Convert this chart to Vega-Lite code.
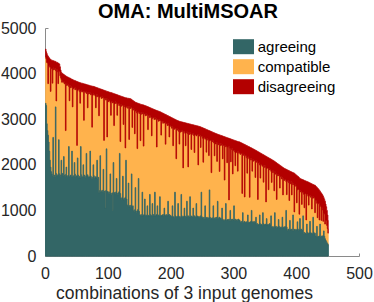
{"$schema":"https://vega.github.io/schema/vega-lite/v6.json","width":314,"height":228,"autosize":{"type":"none"},"padding":{"left":45,"top":28,"right":15,"bottom":46},"background":"white",
"title":{"text":"OMA: MultiMSOAR","font":"Liberation Sans","fontSize":20,"fontWeight":"bold","color":"black","dx":-14,"offset":-2},
"data":{"values":[
{"i":1,"a":3350,"c":1010,"d":180},{"i":2,"a":3300,"c":1025,"d":155},{"i":3,"a":2900,"c":1345,"d":195},{"i":4,"a":2750,"c":1480,"d":170},{"i":5,"a":2650,"c":1130,"d":600},{"i":6,"a":2500,"c":1660,"d":200},{"i":7,"a":2300,"c":1890,"d":150},{"i":8,"a":2100,"c":2040,"d":180},{"i":9,"a":1950,"c":1660,"d":700},{"i":10,"a":1850,"c":2255,"d":195},
{"i":11,"a":1800,"c":2320,"d":170},{"i":12,"a":1760,"c":2030,"d":500},{"i":13,"a":2600,"c":1480,"d":200},{"i":14,"a":1745,"c":2385,"d":150},{"i":15,"a":1775,"c":2315,"d":180},{"i":16,"a":1740,"c":2375,"d":155},{"i":17,"a":3270,"c":795,"d":195},{"i":18,"a":1810,"c":1590,"d":850},{"i":19,"a":1755,"c":2335,"d":160},{"i":20,"a":1770,"c":2270,"d":200},
{"i":21,"a":1790,"c":1990,"d":450},{"i":22,"a":2550,"c":1490,"d":180},{"i":23,"a":1805,"c":2250,"d":155},{"i":24,"a":1745,"c":2210,"d":195},{"i":25,"a":1775,"c":2135,"d":170},{"i":26,"a":2100,"c":1770,"d":160},{"i":27,"a":1785,"c":2025,"d":200},{"i":28,"a":1810,"c":2040,"d":150},{"i":29,"a":1755,"c":2055,"d":180},{"i":30,"a":2180,"c":1645,"d":155},
{"i":31,"a":1775,"c":2000,"d":195},{"i":32,"a":1745,"c":2045,"d":170},{"i":33,"a":1790,"c":960,"d":1200},{"i":34,"a":1950,"c":1790,"d":200},{"i":35,"a":1760,"c":2020,"d":150},{"i":36,"a":1725,"c":2020,"d":180},{"i":37,"a":1770,"c":1995,"d":155},{"i":38,"a":2400,"c":1315,"d":195},{"i":39,"a":1740,"c":1665,"d":500},{"i":40,"a":1755,"c":1985,"d":160},
{"i":41,"a":1775,"c":1915,"d":200},{"i":42,"a":1745,"c":1985,"d":150},{"i":43,"a":2300,"c":1395,"d":180},{"i":44,"a":1730,"c":1540,"d":600},{"i":45,"a":1760,"c":1905,"d":195},{"i":46,"a":1725,"c":1960,"d":170},{"i":47,"a":2050,"c":1640,"d":160},{"i":48,"a":1795,"c":1850,"d":200},{"i":49,"a":1740,"c":1950,"d":150},{"i":50,"a":1755,"c":1895,"d":180},
{"i":51,"a":1760,"c":665,"d":1400},{"i":52,"a":2150,"c":1475,"d":195},{"i":53,"a":1775,"c":1870,"d":170},{"i":54,"a":1715,"c":1935,"d":160},{"i":55,"a":1745,"c":1860,"d":200},{"i":56,"a":1710,"c":1640,"d":450},{"i":57,"a":2400,"c":1215,"d":180},{"i":58,"a":1780,"c":1855,"d":155},{"i":59,"a":1725,"c":1870,"d":195},{"i":60,"a":1740,"c":1875,"d":170},
{"i":61,"a":2000,"c":1620,"d":160},{"i":62,"a":1730,"c":1245,"d":800},{"i":63,"a":1775,"c":1845,"d":150},{"i":64,"a":1715,"c":1875,"d":180},{"i":65,"a":1745,"c":1865,"d":155},{"i":66,"a":2250,"c":1315,"d":195},{"i":67,"a":1755,"c":1830,"d":170},{"i":68,"a":1780,"c":1470,"d":500},{"i":69,"a":1725,"c":1825,"d":200},{"i":70,"a":1740,"c":1855,"d":150},
{"i":71,"a":1740,"c":1820,"d":180},{"i":72,"a":2300,"c":1280,"d":155},{"i":73,"a":1755,"c":1780,"d":195},{"i":74,"a":1695,"c":1865,"d":170},{"i":75,"a":1725,"c":1100,"d":900},{"i":76,"a":1690,"c":1830,"d":200},{"i":77,"a":2000,"c":1570,"d":150},{"i":78,"a":1760,"c":1775,"d":180},{"i":79,"a":1705,"c":1850,"d":155},{"i":80,"a":1720,"c":1790,"d":195},
{"i":81,"a":1740,"c":1510,"d":450},{"i":82,"a":1710,"c":1825,"d":160},{"i":83,"a":2100,"c":1390,"d":200},{"i":84,"a":1695,"c":1840,"d":150},{"i":85,"a":1725,"c":1775,"d":180},{"i":86,"a":1390,"c":1685,"d":600},{"i":87,"a":1435,"c":2040,"d":195},{"i":88,"a":2200,"c":1295,"d":170},{"i":89,"a":1405,"c":2095,"d":160},{"i":90,"a":1420,"c":2035,"d":200},
{"i":91,"a":1440,"c":2060,"d":150},{"i":92,"a":1410,"c":2055,"d":180},{"i":93,"a":1900,"c":1585,"d":155},{"i":94,"a":1395,"c":1140,"d":1100},{"i":95,"a":1425,"c":2035,"d":170},{"i":96,"a":1050,"c":2415,"d":160},{"i":97,"a":1435,"c":1985,"d":200},{"i":98,"a":2350,"c":1115,"d":150},{"i":99,"a":1405,"c":1205,"d":1000},{"i":100,"a":1420,"c":2030,"d":155},
{"i":101,"a":1390,"c":1995,"d":215},{"i":102,"a":1360,"c":2045,"d":190},{"i":103,"a":1405,"c":2005,"d":180},{"i":104,"a":1800,"c":1568,"d":220},{"i":105,"a":1375,"c":1710,"d":500},{"i":106,"a":1340,"c":2040,"d":200},{"i":107,"a":1385,"c":2015,"d":175},{"i":108,"a":1000,"c":2355,"d":215},{"i":109,"a":2050,"c":1325,"d":190},{"i":110,"a":1370,"c":1490,"d":700},
{"i":111,"a":1390,"c":1945,"d":220},{"i":112,"a":1360,"c":2020,"d":170},{"i":113,"a":1405,"c":1940,"d":200},{"i":114,"a":1700,"c":1665,"d":175},{"i":115,"a":1375,"c":1710,"d":450},{"i":116,"a":1340,"c":2000,"d":190},{"i":117,"a":1385,"c":1960,"d":180},{"i":118,"a":1410,"c":1890,"d":220},{"i":119,"a":2250,"c":1095,"d":170},{"i":120,"a":1370,"c":1140,"d":1000},
{"i":121,"a":1270,"c":2060,"d":175},{"i":122,"a":1240,"c":2045,"d":215},{"i":123,"a":1285,"c":2020,"d":190},{"i":124,"a":1750,"c":1560,"d":180},{"i":125,"a":1255,"c":1630,"d":600},{"i":126,"a":1220,"c":2090,"d":170},{"i":127,"a":1265,"c":2010,"d":200},{"i":128,"a":1290,"c":1080,"d":1100},{"i":129,"a":2100,"c":1155,"d":215},{"i":130,"a":1250,"c":2025,"d":190},
{"i":131,"a":1120,"c":2162,"d":180},{"i":132,"a":1090,"c":2150,"d":220},{"i":133,"a":1600,"c":1688,"d":170},{"i":134,"a":1075,"c":1480,"d":900},{"i":135,"a":1105,"c":2172,"d":175},{"i":136,"a":1070,"c":2165,"d":215},{"i":137,"a":1115,"c":2135,"d":190},{"i":138,"a":1800,"c":1450,"d":180},{"i":139,"a":1085,"c":1735,"d":600},{"i":140,"a":1100,"c":2140,"d":170},
{"i":141,"a":1000,"c":2200,"d":200},{"i":142,"a":970,"c":2245,"d":175},{"i":143,"a":1015,"c":1665,"d":700},{"i":144,"a":1500,"c":1680,"d":190},{"i":145,"a":985,"c":2200,"d":180},{"i":146,"a":950,"c":2190,"d":220},{"i":147,"a":995,"c":1360,"d":1000},{"i":148,"a":1020,"c":2130,"d":200},{"i":149,"a":1700,"c":1470,"d":175},{"i":150,"a":980,"c":2145,"d":215},
{"i":151,"a":900,"c":2245,"d":190},{"i":152,"a":885,"c":1645,"d":800},{"i":153,"a":908,"c":2197,"d":220},{"i":154,"a":878,"c":2272,"d":170},{"i":155,"a":1400,"c":1718,"d":200},{"i":156,"a":875,"c":2265,"d":175},{"i":157,"a":898,"c":1512,"d":900},{"i":158,"a":910,"c":2205,"d":190},{"i":159,"a":1250,"c":1870,"d":180},{"i":160,"a":890,"c":2185,"d":220},
{"i":161,"a":900,"c":2220,"d":170},{"i":162,"a":885,"c":2199,"d":200},{"i":163,"a":1100,"c":2003,"d":175},{"i":164,"a":878,"c":1894,"d":500},{"i":165,"a":893,"c":2183,"d":190},{"i":166,"a":875,"c":2205,"d":180},{"i":167,"a":1350,"c":1684,"d":220},{"i":168,"a":910,"c":2168,"d":170},{"i":169,"a":882,"c":2160,"d":200},{"i":170,"a":890,"c":1746,"d":600},
{"i":171,"a":1150,"c":1865,"d":215},{"i":172,"a":885,"c":2149,"d":190},{"i":173,"a":908,"c":2130,"d":180},{"i":174,"a":878,"c":2114,"d":220},{"i":175,"a":1400,"c":1636,"d":170},{"i":176,"a":875,"c":2125,"d":200},{"i":177,"a":898,"c":2122,"d":175},{"i":178,"a":910,"c":1480,"d":800},{"i":179,"a":1100,"c":1895,"d":190},{"i":180,"a":890,"c":2110,"d":180},
{"i":181,"a":900,"c":2055,"d":220},{"i":182,"a":885,"c":2115,"d":170},{"i":183,"a":1300,"c":1665,"d":200},{"i":184,"a":878,"c":2105,"d":175},{"i":185,"a":893,"c":1758,"d":500},{"i":186,"a":875,"c":2079,"d":190},{"i":187,"a":898,"c":2059,"d":180},{"i":188,"a":910,"c":2000,"d":220},{"i":189,"a":882,"c":2071,"d":170},{"i":190,"a":1050,"c":1866,"d":200},
{"i":191,"a":900,"c":2034,"d":175},{"i":192,"a":885,"c":1567,"d":650},{"i":193,"a":908,"c":1997,"d":190},{"i":194,"a":878,"c":2030,"d":180},{"i":195,"a":893,"c":1968,"d":220},{"i":196,"a":1200,"c":1704,"d":170},{"i":197,"a":898,"c":1969,"d":200},{"i":198,"a":910,"c":1700,"d":450},{"i":199,"a":882,"c":1956,"d":215},{"i":200,"a":890,"c":1966,"d":190},
{"i":201,"a":870,"c":1979,"d":190},{"i":202,"a":855,"c":1947,"d":230},{"i":203,"a":1100,"c":1745,"d":180},{"i":204,"a":848,"c":1570,"d":600},{"i":205,"a":863,"c":1963,"d":185},{"i":206,"a":845,"c":1934,"d":225},{"i":207,"a":1400,"c":1397,"d":200},{"i":208,"a":880,"c":1920,"d":190},{"i":209,"a":852,"c":1281,"d":850},{"i":210,"a":860,"c":1936,"d":180},
{"i":211,"a":870,"c":1890,"d":210},{"i":212,"a":1150,"c":1629,"d":185},{"i":213,"a":878,"c":1855,"d":225},{"i":214,"a":848,"c":1606,"d":500},{"i":215,"a":863,"c":1897,"d":190},{"i":216,"a":845,"c":1871,"d":230},{"i":217,"a":1350,"c":1412,"d":180},{"i":218,"a":880,"c":1849,"d":210},{"i":219,"a":852,"c":1899,"d":185},{"i":220,"a":860,"c":1072,"d":1000},
{"i":221,"a":870,"c":1858,"d":200},{"i":222,"a":1050,"c":1685,"d":190},{"i":223,"a":878,"c":1814,"d":230},{"i":224,"a":848,"c":1570,"d":500},{"i":225,"a":863,"c":1841,"d":210},{"i":226,"a":1200,"c":1526,"d":185},{"i":227,"a":868,"c":1815,"d":225},{"i":228,"a":880,"c":1074,"d":950},{"i":229,"a":852,"c":1858,"d":190},{"i":230,"a":860,"c":1807,"d":230},
{"i":231,"a":1300,"c":1414,"d":180},{"i":232,"a":855,"c":1825,"d":210},{"i":233,"a":878,"c":1458,"d":550},{"i":234,"a":848,"c":1810,"d":225},{"i":235,"a":863,"c":1817,"d":200},{"i":236,"a":1050,"c":1636,"d":190},{"i":237,"a":868,"c":1774,"d":230},{"i":238,"a":880,"c":1389,"d":600},{"i":239,"a":852,"c":1804,"d":210},{"i":240,"a":860,"c":1817,"d":185},
{"i":241,"a":1150,"c":1483,"d":225},{"i":242,"a":855,"c":1800,"d":200},{"i":243,"a":878,"c":1784,"d":190},{"i":244,"a":848,"c":1150,"d":850},{"i":245,"a":863,"c":1801,"d":180},{"i":246,"a":845,"c":1785,"d":210},{"i":247,"a":868,"c":1783,"d":185},{"i":248,"a":880,"c":1500,"d":450},{"i":249,"a":1400,"c":1224,"d":200},{"i":250,"a":860,"c":1768,"d":190},
{"i":251,"a":840,"c":1742,"d":230},{"i":252,"a":825,"c":1231,"d":750},{"i":253,"a":848,"c":1742,"d":210},{"i":254,"a":818,"c":1791,"d":185},{"i":255,"a":1100,"c":1463,"d":225},{"i":256,"a":815,"c":1767,"d":200},{"i":257,"a":838,"c":1438,"d":500},{"i":258,"a":850,"c":1690,"d":230},{"i":259,"a":822,"c":1762,"d":180},{"i":260,"a":830,"c":1718,"d":210},
{"i":261,"a":840,"c":1362,"d":550},{"i":262,"a":1450,"c":1071,"d":225},{"i":263,"a":848,"c":1692,"d":200},{"i":264,"a":818,"c":1726,"d":190},{"i":265,"a":833,"c":995,"d":900},{"i":266,"a":815,"c":1727,"d":180},{"i":267,"a":838,"c":1668,"d":210},{"i":268,"a":1100,"c":1425,"d":185},{"i":269,"a":822,"c":1657,"d":225},{"i":270,"a":830,"c":1368,"d":500},
{"i":271,"a":840,"c":1662,"d":190},{"i":272,"a":825,"c":1631,"d":230},{"i":273,"a":848,"c":1652,"d":180},{"i":274,"a":818,"c":1257,"d":600},{"i":275,"a":1200,"c":1285,"d":185},{"i":276,"a":815,"c":1625,"d":225},{"i":277,"a":838,"c":1622,"d":200},{"i":278,"a":850,"c":1005,"d":800},{"i":279,"a":822,"c":1598,"d":230},{"i":280,"a":830,"c":1635,"d":180},
{"i":281,"a":800,"c":1630,"d":210},{"i":282,"a":1050,"c":1400,"d":185},{"i":283,"a":808,"c":1322,"d":500},{"i":284,"a":778,"c":1647,"d":200},{"i":285,"a":793,"c":1637,"d":190},{"i":286,"a":775,"c":890,"d":950},{"i":287,"a":798,"c":1632,"d":180},{"i":288,"a":1150,"c":1245,"d":210},{"i":289,"a":782,"c":1633,"d":185},{"i":290,"a":790,"c":1255,"d":550},
{"i":291,"a":800,"c":1590,"d":200},{"i":292,"a":785,"c":1610,"d":190},{"i":293,"a":808,"c":422,"d":1350},{"i":294,"a":778,"c":1617,"d":180},{"i":295,"a":1000,"c":1360,"d":210},{"i":296,"a":775,"c":1290,"d":500},{"i":297,"a":798,"c":1537,"d":225},{"i":298,"a":810,"c":1545,"d":200},{"i":299,"a":782,"c":1018,"d":750},{"i":300,"a":790,"c":1525,"d":230},
{"i":301,"a":1100,"c":1220,"d":220},{"i":302,"a":785,"c":1500,"d":250},{"i":303,"a":808,"c":1172,"d":550},{"i":304,"a":778,"c":1482,"d":265},{"i":305,"a":793,"c":1487,"d":240},{"i":306,"a":775,"c":1510,"d":230},{"i":307,"a":798,"c":1062,"d":650},{"i":308,"a":810,"c":1477,"d":220},{"i":309,"a":782,"c":1472,"d":250},{"i":310,"a":790,"c":1485,"d":225},
{"i":311,"a":750,"c":1478,"d":265},{"i":312,"a":735,"c":1511,"d":240},{"i":313,"a":758,"c":1491,"d":230},{"i":314,"a":728,"c":644,"d":1100},{"i":315,"a":950,"c":1295,"d":220},{"i":316,"a":725,"c":1483,"d":250},{"i":317,"a":748,"c":1478,"d":225},{"i":318,"a":760,"c":534,"d":1150},{"i":319,"a":732,"c":1465,"d":240},{"i":320,"a":740,"c":1460,"d":230},
{"i":321,"a":750,"c":1403,"d":270},{"i":322,"a":735,"c":1081,"d":600},{"i":323,"a":900,"c":1259,"d":250},{"i":324,"a":728,"c":1449,"d":225},{"i":325,"a":743,"c":1387,"d":265},{"i":326,"a":725,"c":563,"d":1100},{"i":327,"a":748,"c":1403,"d":230},{"i":328,"a":760,"c":1344,"d":270},{"i":329,"a":1000,"c":1147,"d":220},{"i":330,"a":740,"c":1120,"d":500},
{"i":331,"a":750,"c":1377,"d":225},{"i":332,"a":735,"c":1344,"d":265},{"i":333,"a":758,"c":1339,"d":240},{"i":334,"a":728,"c":1372,"d":230},{"i":335,"a":743,"c":979,"d":600},{"i":336,"a":850,"c":1244,"d":220},{"i":337,"a":698,"c":1358,"d":250},{"i":338,"a":710,"c":1363,"d":225},{"i":339,"a":682,"c":558,"d":1050},{"i":340,"a":690,"c":1352,"d":240},
{"i":341,"a":700,"c":1344,"d":230},{"i":342,"a":900,"c":1096,"d":270},{"i":343,"a":708,"c":1000,"d":550},{"i":344,"a":678,"c":1322,"d":250},{"i":345,"a":693,"c":1324,"d":225},{"i":346,"a":675,"c":1294,"d":265},{"i":347,"a":950,"c":1036,"d":240},{"i":348,"a":710,"c":908,"d":600},{"i":349,"a":682,"c":1258,"d":270},{"i":350,"a":690,"c":1292,"d":220},
{"i":351,"a":700,"c":1244,"d":250},{"i":352,"a":685,"c":501,"d":1000},{"i":353,"a":820,"c":1093,"d":265},{"i":354,"a":678,"c":1252,"d":240},{"i":355,"a":693,"c":1239,"d":230},{"i":356,"a":675,"c":779,"d":700},{"i":357,"a":698,"c":1228,"d":220},{"i":358,"a":710,"c":1178,"d":250},{"i":359,"a":682,"c":1223,"d":225},{"i":360,"a":880,"c":977,"d":265},
{"i":361,"a":640,"c":974,"d":500},{"i":362,"a":625,"c":1251,"d":230},{"i":363,"a":648,"c":1180,"d":270},{"i":364,"a":618,"c":1252,"d":220},{"i":365,"a":633,"c":797,"d":650},{"i":366,"a":950,"c":895,"d":225},{"i":367,"a":638,"c":1157,"d":265},{"i":368,"a":650,"c":1160,"d":240},{"i":369,"a":622,"c":618,"d":800},{"i":370,"a":630,"c":1130,"d":270},
{"i":371,"a":640,"c":1160,"d":220},{"i":372,"a":800,"c":960,"d":250},{"i":373,"a":648,"c":1127,"d":225},{"i":374,"a":618,"c":872,"d":500},{"i":375,"a":633,"c":1107,"d":240},{"i":376,"a":615,"c":1125,"d":230},{"i":377,"a":638,"c":1052,"d":270},{"i":378,"a":850,"c":880,"d":220},{"i":379,"a":622,"c":718,"d":600},{"i":380,"a":630,"c":1075,"d":225},
{"i":381,"a":640,"c":1018,"d":265},{"i":382,"a":625,"c":1051,"d":240},{"i":383,"a":648,"c":1031,"d":230},{"i":384,"a":1000,"c":632,"d":270},{"i":385,"a":633,"c":712,"d":550},{"i":386,"a":555,"c":1083,"d":250},{"i":387,"a":578,"c":1078,"d":225},{"i":388,"a":590,"c":1019,"d":265},{"i":389,"a":562,"c":655,"d":650},{"i":390,"a":780,"c":850,"d":230},
{"i":391,"a":580,"c":1003,"d":270},{"i":392,"a":565,"c":1061,"d":220},{"i":393,"a":588,"c":752,"d":500},{"i":394,"a":558,"c":1051,"d":225},{"i":395,"a":900,"c":663,"d":265},{"i":396,"a":555,"c":1027,"d":240},{"i":397,"a":578,"c":388,"d":850},{"i":398,"a":590,"c":940,"d":270},{"i":399,"a":562,"c":1008,"d":220},{"i":400,"a":570,"c":958,"d":250},
{"i":401,"a":580,"c":586,"d":600},{"i":402,"a":750,"c":699,"d":305},{"i":403,"a":588,"c":874,"d":280},{"i":404,"a":558,"c":902,"d":270},{"i":405,"a":573,"c":343,"d":800},{"i":406,"a":820,"c":620,"d":260},{"i":407,"a":578,"c":826,"d":290},{"i":408,"a":590,"c":833,"d":265},{"i":409,"a":562,"c":570,"d":550},{"i":410,"a":570,"c":826,"d":280},
{"i":411,"a":880,"c":520,"d":270},{"i":412,"a":495,"c":859,"d":310},{"i":413,"a":518,"c":540,"d":600},{"i":414,"a":488,"c":874,"d":290},{"i":415,"a":503,"c":878,"d":265},{"i":416,"a":485,"c":305,"d":850},{"i":417,"a":700,"c":655,"d":280},{"i":418,"a":520,"c":840,"d":270},{"i":419,"a":492,"c":821,"d":310},{"i":420,"a":500,"c":616,"d":500},
{"i":421,"a":510,"c":809,"d":290},{"i":422,"a":760,"c":577,"d":265},{"i":423,"a":518,"c":772,"d":305},{"i":424,"a":488,"c":820,"d":280},{"i":425,"a":503,"c":528,"d":550},{"i":426,"a":485,"c":779,"d":310},{"i":427,"a":850,"c":457,"d":260},{"i":428,"a":520,"c":750,"d":290},{"i":429,"a":492,"c":798,"d":265},{"i":430,"a":500,"c":450,"d":600},
{"i":431,"a":440,"c":775,"d":320},{"i":432,"a":425,"c":785,"d":310},{"i":433,"a":650,"c":505,"d":350},{"i":434,"a":418,"c":422,"d":650},{"i":435,"a":433,"c":712,"d":330},{"i":436,"a":415,"c":740,"d":305},{"i":437,"a":438,"c":352,"d":650},{"i":438,"a":700,"c":400,"d":320},{"i":439,"a":422,"c":668,"d":310},{"i":440,"a":430,"c":350,"d":600},
{"i":441,"a":440,"c":620,"d":300},{"i":442,"a":425,"c":585,"d":330},{"i":443,"a":448,"c":312,"d":550},{"i":444,"a":550,"c":385,"d":345},{"i":445,"a":433,"c":487,"d":320},{"i":446,"a":380,"c":320,"d":500},{"i":447,"a":350,"c":440,"d":350},{"i":448,"a":320,"c":460,"d":300},{"i":449,"a":290,"c":380,"d":330},{"i":450,"a":270,"c":330,"d":300},
{"i":451,"a":250,"c":250,"d":280}
]},
"encoding":{
"x":{"field":"i","type":"quantitative","scale":{"domain":[0,500],"nice":false,"zero":false},"axis":{"values":[0,100,200,300,400,500],"format":"d","title":"combinations of 3 input genomes","titleFont":"Liberation Sans","titleFontSize":17.5,"titleFontWeight":"normal","titleColor":"#262626","titleX":139,"titleY":42.5,"titleBaseline":"alphabetic","titleAnchor":"middle","titleAlign":"center","labelFont":"Liberation Sans","labelFontSize":16,"labelColor":"#262626","labelPadding":12.7,"tickSize":-3,"tickColor":"#8a8a8a","domainColor":"#8a8a8a","grid":false,"labelFlush":false,"labelOverlap":false}}
},
"layer":[
{"transform":[{"fold":["a","c","d"],"as":["k","v"]}],
"mark":{"type":"area","interpolate":"step","strokeWidth":0.8},
"encoding":{
"y":{"field":"v","type":"quantitative","stack":"zero","scale":{"domain":[0,5000],"nice":false},"axis":{"values":[0,1000,2000,3000,4000,5000],"format":"d","title":null,"labelFont":"Liberation Sans","labelFontSize":16,"labelColor":"#262626","labelPadding":12,"tickSize":-3,"tickColor":"#8a8a8a","domainColor":"#8a8a8a","grid":false,"labelFlush":false,"labelOverlap":false}},
"order":{"field":"k","type":"nominal","sort":"ascending"},
"stroke":{"field":"k","type":"nominal","scale":{"domain":["a","c","d"],"range":["#336666","#ffb34d","#b30000"]},"legend":null},
"color":{"field":"k","type":"nominal","scale":{"domain":["a","c","d"],"range":["#336666","#ffb34d","#b30000"]},"legend":{"orient":"none","legendX":191,"legendY":11.2,"title":null,"padding":0,"labelExpr":"datum.label == 'a' ? 'agreeing' : datum.label == 'c' ? 'compatible' : 'disagreeing'","labelFont":"Liberation Sans","labelFontSize":15,"labelColor":"black","symbolType":"M-1.4,-1L1.4,-1L1.4,1L-1.4,1Z","symbolSize":225,"symbolStrokeWidth":0,"symbolOpacity":1,"labelOffset":6.7,"rowPadding":4}}
}},
{"mark":{"type":"area","interpolate":"step","color":"#336666","stroke":"#336666","strokeWidth":0.8},
"encoding":{
"y":{"field":"a","type":"quantitative","scale":{"domain":[0,5000],"nice":false},"axis":{"values":[0,1000,2000,3000,4000,5000],"format":"d","title":null,"labelFont":"Liberation Sans","labelFontSize":16,"labelColor":"#262626","labelPadding":12,"tickSize":-3,"tickColor":"#8a8a8a","domainColor":"#8a8a8a","grid":false,"labelFlush":false,"labelOverlap":false}}
}}
],
"config":{"view":{"stroke":null}}
}
